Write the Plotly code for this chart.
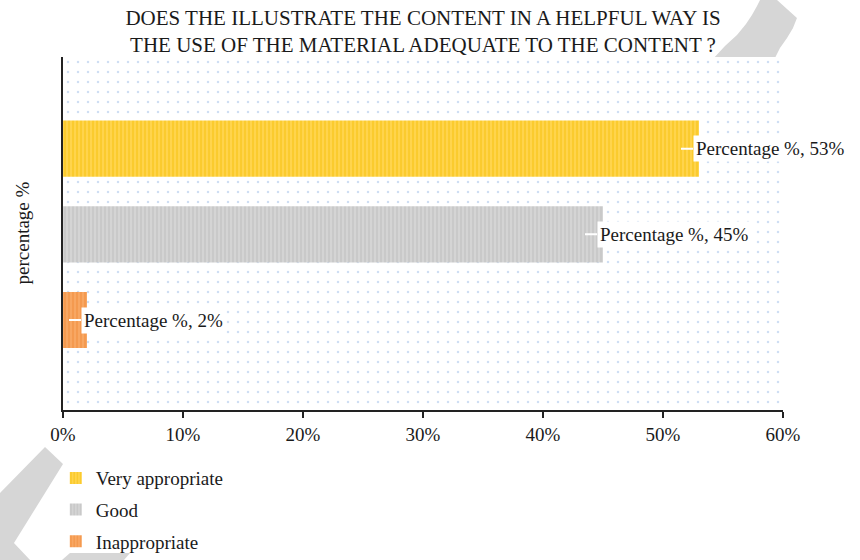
import plotly.graph_objects as go

# Survey answers, top to bottom
categories = ["Very appropriate", "Good", "Inappropriate"]
values = [53, 45, 2]
series_name = "Percentage %"
bar_colors = ["#FFD44C", "#D4D4D4", "#F8A763"]
stripe_colors = ["#F4BE00", "#B9B9B9", "#EE8634"]
tick_vals = [0, 10, 20, 30, 40, 50, 60]
tick_text = ["0%", "10%", "20%", "30%", "40%", "50%", "60%"]

title_text = ("DOES THE ILLUSTRATE THE CONTENT IN A HELPFUL WAY IS<br>"
              "THE USE OF THE MATERIAL ADEQUATE TO THE CONTENT ?")
y_title = "percentage %"

FONT = "Liberation Serif"
W, H = 860, 560
M_L, M_R, M_T, M_B = 63, 77, 57, 150
PLOT_W = W - M_L - M_R
PLOT_H = H - M_T - M_B
Y_RANGE = [-1.05, 3.07]
X_RANGE = [0, 60]

fig = go.Figure()

# dotted backdrop of the plotting area, drawn as the first (lowest) bar
bg_lo, bg_hi = Y_RANGE[0] + 0.03, Y_RANGE[1]
fig.add_trace(go.Bar(
    x=[X_RANGE[1] * 1.003], y=[(bg_lo + bg_hi) / 2], width=bg_hi - bg_lo,
    orientation="h",
    marker=dict(color="white", line=dict(width=0),
                pattern=dict(shape=".", size=10, solidity=0.05,
                             fgcolor="#9dbce6", bgcolor="white")),
    hoverinfo="skip", showlegend=False,
))

n = len(categories)
for i, (cat, val) in enumerate(zip(categories, values)):
    fig.add_trace(go.Bar(
        name=cat, legendgroup=cat,
        x=[val], y=[n - 1 - i], orientation="h", width=0.655,
        marker=dict(color=bar_colors[i], line=dict(width=0),
                    pattern=dict(shape="|", size=4, solidity=0.4,
                                 fgcolor=stripe_colors[i],
                                 bgcolor=bar_colors[i])),
        hoverinfo="skip",
    ))
    fig.add_annotation(
        x=val - 1.5, y=n - 1 - i, xref="x", yref="y",
        text=f"{series_name}, {val}%",
        showarrow=True, arrowhead=0, arrowwidth=2, arrowcolor="white",
        ax=12, ay=0, xanchor="left", yanchor="middle",
        bgcolor="white", borderpad=2,
        font=dict(family=FONT, size=19, color="#1a1a1a"),
    )


def px_to_paper(px, py):
    return (px - M_L) / PLOT_W, (H - M_B - py) / PLOT_H


def path_from(points):
    pts = [px_to_paper(x, y) for x, y in points]
    return "M " + " L ".join(f"{x:.4f},{y:.4f}" for x, y in pts) + " Z"


watermark_gray = "#d6d6d6"
arc_pts = [(712, 60), (725, 46), (737, 35), (746, 24), (752, 15), (757, 6), (760, 0),
           (777, 0), (797, 18), (793, 28), (787, 38), (780, 48), (774, 60)]
chevron_pts = [(45, 447), (63, 464), (14, 543), (30, 560), (0, 560), (0, 493)]
band_pts = [(62, 560), (70, 553), (130, 553), (124, 560)]
for pts in (arc_pts, chevron_pts, band_pts):
    fig.add_shape(type="path", path=path_from(pts), xref="paper", yref="paper",
                  fillcolor=watermark_gray, line=dict(width=0), layer="below")

fig.add_annotation(
    text=y_title, textangle=-90, xref="paper", yref="paper",
    x=0, y=0.5, xshift=-41, xanchor="center", yanchor="middle", showarrow=False,
    font=dict(family=FONT, size=19, color="#1a1a1a"),
)

fig.update_layout(
    width=W, height=H,
    margin=dict(l=M_L, r=M_R, t=M_T, b=M_B, autoexpand=False),
    paper_bgcolor="white", plot_bgcolor="white",
    title=dict(text=title_text, x=423 / W, xanchor="center",
               y=1 - 25 / H, yanchor="middle",
               font=dict(family=FONT, size=21, color="#1a1a1a")),
    font=dict(family=FONT, size=19, color="#1a1a1a"),
    barmode="overlay",
    showlegend=True,
    legend=dict(x=-0.01, y=-0.139, xanchor="left", yanchor="top",
                tracegroupgap=4, font=dict(family=FONT, size=19, color="#1a1a1a"),
                bgcolor="rgba(0,0,0,0)"),
    xaxis=dict(range=X_RANGE, tickvals=tick_vals, ticktext=tick_text,
               showgrid=False, zeroline=False, showline=True,
               linecolor="#222", linewidth=1.5, ticks="outside", ticklen=6,
               tickwidth=1.5, tickcolor="#222",
               tickfont=dict(family=FONT, size=19, color="#1a1a1a")),
    yaxis=dict(range=Y_RANGE, showticklabels=False, showgrid=False,
               zeroline=False, showline=True, linecolor="#222", linewidth=1.5,
               ticks=""),
)

fig.write_html("out.html")
